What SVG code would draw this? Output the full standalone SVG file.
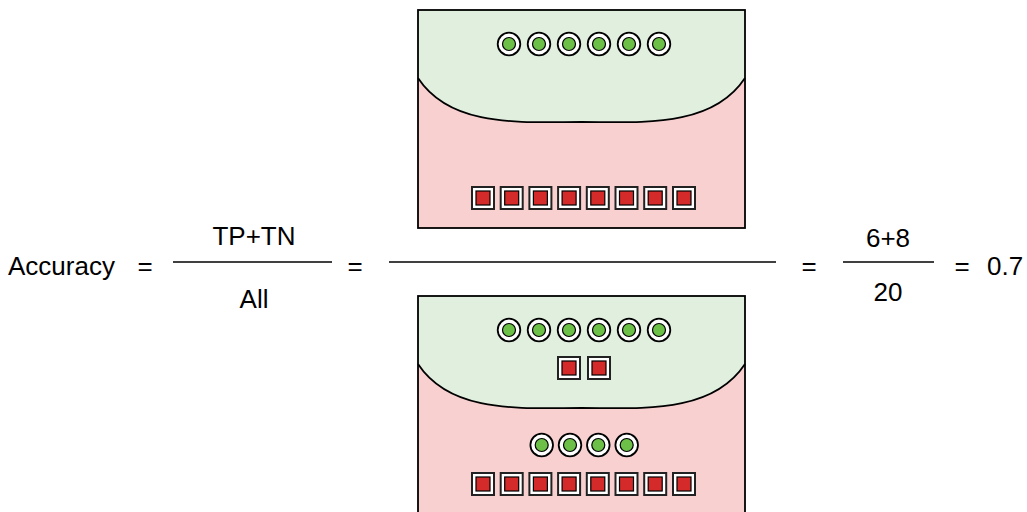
<svg xmlns="http://www.w3.org/2000/svg" xmlns:xlink="http://www.w3.org/1999/xlink" width="1027" height="512" viewBox="0 0 1027 512">
  <style>
    text { font-family: "Liberation Sans", Arial, Helvetica, sans-serif; font-size: 26px; fill: #000; }
    .mid { text-anchor: middle; }
    .bar { stroke: #000; stroke-width: 1.5; fill: none; }
    .pink { fill: #f8d0d0; }
    .green { fill: #e0efde; }
    .edge { fill: none; stroke: #000; stroke-width: 1.8; }
  </style>
  <defs>
    <!-- positive sample: ringed green dot -->
    <g id="dot">
      <circle r="11.3" fill="#fff" stroke="#000" stroke-width="1.8"/>
      <circle r="6.5" fill="#6cbf47" stroke="#000" stroke-width="1.2"/>
    </g>
    <!-- negative sample: framed red square -->
    <g id="sq">
      <rect x="-11" y="-11" width="22" height="22" fill="#fff" stroke="#222" stroke-width="2"/>
      <rect x="-7" y="-7" width="14" height="14" fill="#d42a2a" stroke="#000" stroke-width="1.2"/>
    </g>
    <!-- split box: green (predicted positive) over pink (predicted negative) -->
    <g id="box">
      <rect x="0" y="0" width="327" height="218" class="pink"/>
      <path d="M0,0 H327 V68 C294,118 224,112 163.5,112 C103,112 33,118 0,68 Z" class="green"/>
      <path d="M0,68 C33,118 103,112 163.5,112 C224,112 294,118 327,68" class="edge"/>
      <rect x="0" y="0" width="327" height="218" class="edge"/>
    </g>
  </defs>

  <!-- fraction bars -->
  <g id="connectors">
    <line x1="173" y1="262" x2="332" y2="262" class="bar"/>
    <line x1="389" y1="262" x2="776" y2="262" class="bar"/>
    <line x1="843" y1="262" x2="934" y2="262" class="bar"/>
  </g>

  <!-- numerator: correct predictions only -->
  <g id="correct-box">
    <use xlink:href="#box" x="418" y="10"/>
    <use xlink:href="#dot" x="509" y="44"/>
    <use xlink:href="#dot" x="539" y="44"/>
    <use xlink:href="#dot" x="569" y="44"/>
    <use xlink:href="#dot" x="599" y="44"/>
    <use xlink:href="#dot" x="629" y="44"/>
    <use xlink:href="#dot" x="659" y="44"/>
    <use xlink:href="#sq" x="483" y="198"/>
    <use xlink:href="#sq" x="511.7" y="198"/>
    <use xlink:href="#sq" x="540.4" y="198"/>
    <use xlink:href="#sq" x="569.1" y="198"/>
    <use xlink:href="#sq" x="597.8" y="198"/>
    <use xlink:href="#sq" x="626.5" y="198"/>
    <use xlink:href="#sq" x="655.2" y="198"/>
    <use xlink:href="#sq" x="684" y="198"/>
  </g>

  <!-- denominator: all samples -->
  <g id="all-box">
    <use xlink:href="#box" x="418" y="296"/>
    <use xlink:href="#dot" x="509" y="330"/>
    <use xlink:href="#dot" x="539" y="330"/>
    <use xlink:href="#dot" x="569" y="330"/>
    <use xlink:href="#dot" x="599" y="330"/>
    <use xlink:href="#dot" x="629" y="330"/>
    <use xlink:href="#dot" x="659" y="330"/>
    <use xlink:href="#sq" x="569" y="368"/>
    <use xlink:href="#sq" x="599" y="368"/>
    <use xlink:href="#dot" x="541.7" y="445"/>
    <use xlink:href="#dot" x="570" y="445"/>
    <use xlink:href="#dot" x="598.3" y="445"/>
    <use xlink:href="#dot" x="626.7" y="445"/>
    <use xlink:href="#sq" x="483" y="484"/>
    <use xlink:href="#sq" x="511.7" y="484"/>
    <use xlink:href="#sq" x="540.4" y="484"/>
    <use xlink:href="#sq" x="569.1" y="484"/>
    <use xlink:href="#sq" x="597.8" y="484"/>
    <use xlink:href="#sq" x="626.5" y="484"/>
    <use xlink:href="#sq" x="655.2" y="484"/>
    <use xlink:href="#sq" x="684" y="484"/>
  </g>

  <!-- formula text -->
  <g id="accuracy-label"><text x="8" y="275">Accuracy</text></g>
  <g id="eq1"><text x="145" y="275" class="mid">=</text></g>
  <g id="tp-tn"><text x="254" y="245" class="mid">TP+TN</text></g>
  <g id="all"><text x="254" y="308" class="mid">All</text></g>
  <g id="eq2"><text x="355" y="275" class="mid">=</text></g>
  <g id="eq3"><text x="809" y="275" class="mid">=</text></g>
  <g id="six-eight"><text x="888" y="247" class="mid">6+8</text></g>
  <g id="twenty"><text x="888" y="301" class="mid">20</text></g>
  <g id="eq4"><text x="962" y="275" class="mid">=</text></g>
  <g id="result"><text x="987" y="275">0.7</text></g>
</svg>
